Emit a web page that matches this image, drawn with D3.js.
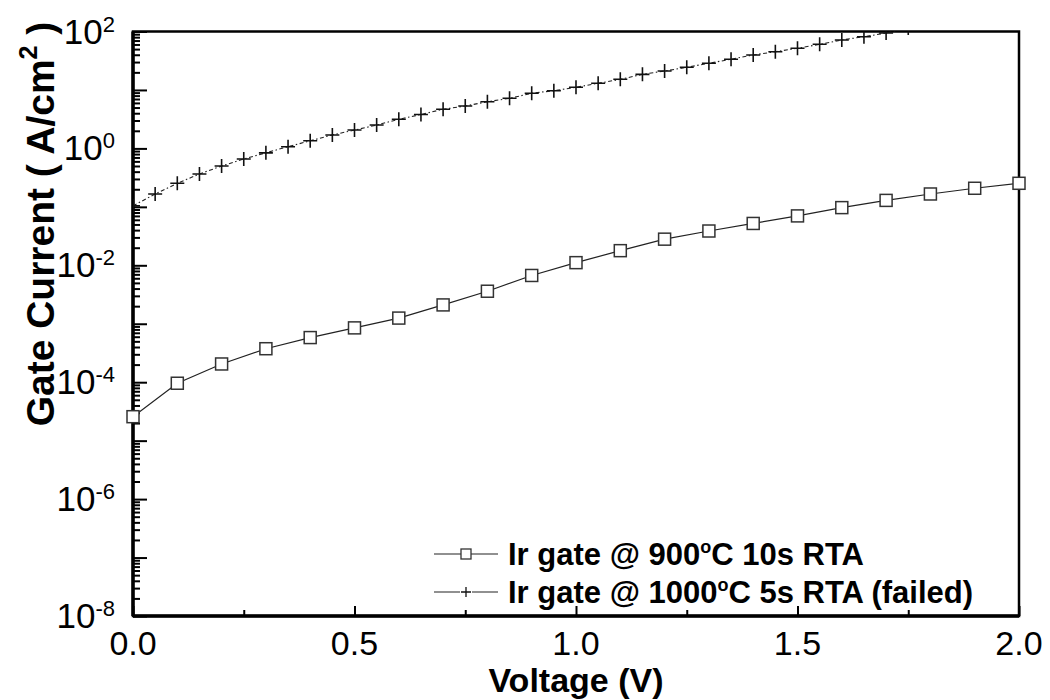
<!DOCTYPE html>
<html>
<head>
<meta charset="utf-8">
<script src="https://cdn.jsdelivr.net/npm/d3@7"></script>
<style>
  body { margin: 0; background: #fff; }
  text { font-family: "Liberation Sans", Arial, sans-serif; fill: #000; }
  .axis path { display: none; }
  .axis line { stroke: #000; stroke-width: 2; }
</style>
</head>
<body>
<div id="chart"></div>
<script>
var svgWidth = 1050;
var svgHeight = 700;

var margin = { top: 31.5, right: 31, bottom: 84, left: 133 };
var width = svgWidth - margin.left - margin.right;
var height = svgHeight - margin.top - margin.bottom;

// Ir gate @ 900C 10s RTA (squares)
var sqVolt = [0, 0.1, 0.2, 0.3, 0.4, 0.5, 0.6, 0.7, 0.8, 0.9, 1.0,
              1.1, 1.2, 1.3, 1.4, 1.5, 1.6, 1.7, 1.8, 1.9, 2.0];
var sqCurrent = [2.57e-5, 9.6e-5, 2.05e-4, 3.74e-4, 5.8e-4, 8.5e-4, 1.25e-3, 2.1e-3, 3.6e-3, 6.7e-3, 1.11e-2,
                 1.78e-2, 2.8e-2, 3.86e-2, 5.2e-2, 7.0e-2, 9.7e-2, 0.129, 0.166, 0.208, 0.253];

// Ir gate @ 1000C 5s RTA, failed (plus)
var plusVolt = [0, 0.05, 0.1, 0.15, 0.2, 0.25, 0.3, 0.35, 0.4, 0.45, 0.5, 0.55,
                0.6, 0.65, 0.7, 0.75, 0.8, 0.85, 0.9, 0.95, 1.0, 1.05, 1.1, 1.15,
                1.2, 1.25, 1.3, 1.35, 1.4, 1.45, 1.5, 1.55, 1.6, 1.65, 1.7, 1.75];
var plusCurrent = [0.104, 0.166, 0.253, 0.365, 0.50, 0.66, 0.84, 1.07, 1.35, 1.70, 2.06, 2.51,
                   3.15, 3.8, 4.67, 5.31, 6.29, 7.19, 8.77, 9.71, 11.1, 13.0, 15.2, 18.5,
                   21.1, 24.4, 28.6, 33.5, 39.6, 45.1, 51.6, 60.4, 71.6, 81.5, 94.2, 115];

var xMajor = [0, 0.5, 1.0, 1.5, 2.0];
var xMinor = [0.25, 0.75, 1.25, 1.75];
var xLabels = ["0.0", "0.5", "1.0", "1.5", "2.0"];
var yExponents = [-8, -6, -4, -2, 0, 2];

var legendNames = ["Ir gate @ 900", "Ir gate @ 1000"];
var legendTails = ["C 10s RTA", "C 5s RTA (failed)"];

var svg = d3.select("#chart")
    .append("svg")
    .attr("width", svgWidth)
    .attr("height", svgHeight);

var chartGroup = svg.append("g")
    .attr("transform", `translate(${margin.left}, ${margin.top})`);

var xScale = d3.scaleLinear().domain([0, 2]).range([0, width]);
var yScale = d3.scaleLog().domain([1e-8, 1e2]).range([height, 0]);

// clip for the data
svg.append("defs").append("clipPath")
    .attr("id", "plotClip")
    .append("rect")
    .attr("width", width)
    .attr("height", height);

// y ticks, pointing inward
var decades = d3.range(-8, 3).map(e => Math.pow(10, e));
var yMinors = [];
d3.range(-8, 2).forEach(e => {
    for (var m = 2; m <= 9; m++) yMinors.push(m * Math.pow(10, e));
});

chartGroup.append("g")
    .attr("class", "axis")
    .call(d3.axisRight(yScale).tickValues(decades).tickSize(14).tickFormat(""));
chartGroup.append("g")
    .attr("class", "axis")
    .call(d3.axisRight(yScale).tickValues(yMinors).tickSize(7).tickFormat(""));

// x ticks, pointing up
chartGroup.append("g")
    .attr("class", "axis")
    .attr("transform", `translate(0, ${height})`)
    .call(d3.axisTop(xScale).tickValues(xMajor).tickSize(10).tickFormat(""));
chartGroup.append("g")
    .attr("class", "axis")
    .attr("transform", `translate(0, ${height})`)
    .call(d3.axisTop(xScale).tickValues(xMinor).tickSize(6).tickFormat(""));

// frame
chartGroup.append("rect")
    .attr("width", width)
    .attr("height", height)
    .attr("fill", "none")
    .attr("stroke", "#000")
    .attr("stroke-width", 2.5);
chartGroup.append("line")
    .attr("x1", 0).attr("x2", 0).attr("y1", 0).attr("y2", height)
    .attr("stroke", "#000").attr("stroke-width", 3.5);
chartGroup.append("line")
    .attr("x1", 0).attr("x2", width).attr("y1", height).attr("y2", height)
    .attr("stroke", "#000").attr("stroke-width", 3.5);

// x tick labels
chartGroup.selectAll(".xlab")
    .data(xMajor)
    .enter()
    .append("text")
    .attr("class", "xlab")
    .attr("x", d => xScale(d))
    .attr("y", height + 39)
    .attr("text-anchor", "middle")
    .attr("font-size", 34)
    .text((d, i) => xLabels[i]);

// y tick labels: 10 with superscript exponent
var yLab = chartGroup.selectAll(".ylab")
    .data(yExponents)
    .enter()
    .append("text")
    .attr("class", "ylab")
    .attr("x", -18)
    .attr("y", d => yScale(Math.pow(10, d)) + 12)
    .attr("text-anchor", "end");
yLab.append("tspan").attr("font-size", 35).text("10");
yLab.append("tspan").attr("font-size", 22).attr("dy", -12).text(d => d);

// square series
var dataGroup = chartGroup.append("g").attr("clip-path", "url(#plotClip)");

var sqData = sqVolt.map((v, i) => ({ v: v, c: sqCurrent[i] }));
var plusData = plusVolt.map((v, i) => ({ v: v, c: plusCurrent[i] }));

var lineGen = d3.line().x(d => xScale(d.v)).y(d => yScale(d.c));

dataGroup.append("path")
    .datum(plusData)
    .attr("d", lineGen)
    .attr("fill", "none")
    .attr("stroke", "#222")
    .attr("stroke-width", 1.1)
    .attr("stroke-dasharray", "4,2.5,1.5,2.5");

dataGroup.selectAll(".plus")
    .data(plusData)
    .enter()
    .append("path")
    .attr("class", "plus")
    .attr("d", d => {
        var px = xScale(d.v), py = yScale(d.c);
        return `M${px - 7},${py}H${px + 7}M${px},${py - 7}V${py + 7}`;
    })
    .attr("stroke", "#111")
    .attr("stroke-width", 1.6);

dataGroup.append("path")
    .datum(sqData)
    .attr("d", lineGen)
    .attr("fill", "none")
    .attr("stroke", "#222")
    .attr("stroke-width", 1.2);

chartGroup.selectAll(".sq")
    .data(sqData)
    .enter()
    .append("rect")
    .attr("class", "sq")
    .attr("x", d => xScale(d.v) - 6)
    .attr("y", d => yScale(d.c) - 6)
    .attr("width", 12)
    .attr("height", 12)
    .attr("fill", "#fff")
    .attr("stroke", "#333")
    .attr("stroke-width", 1.5);

// legend
var legend = svg.append("g");
legendNames.forEach((name, i) => {
    var ly = 554 + i * 38;
    legend.append("line")
        .attr("x1", 434).attr("x2", 498).attr("y1", ly).attr("y2", ly)
        .attr("stroke", "#222").attr("stroke-width", 1.2);
    if (i === 0) {
        legend.append("rect")
            .attr("x", 461).attr("y", ly - 5).attr("width", 10).attr("height", 10)
            .attr("fill", "#fff").attr("stroke", "#333").attr("stroke-width", 1.3);
    } else {
        legend.append("rect")
            .attr("x", 460).attr("y", ly - 6).attr("width", 12).attr("height", 12)
            .attr("fill", "#fff");
        legend.append("path")
            .attr("d", `M461,${ly}H471M466,${ly - 5}V${ly + 5}`)
            .attr("stroke", "#111").attr("stroke-width", 1.3);
    }
    var t = legend.append("text")
        .attr("x", 508)
        .attr("y", ly + 11)
        .attr("font-size", 31)
        .attr("font-weight", "bold");
    t.append("tspan").text(name);
    t.append("tspan").attr("font-size", 18).attr("dy", -12).text("o");
    t.append("tspan").attr("dy", 12).text(legendTails[i]);
});

// axis titles
svg.append("text")
    .attr("x", margin.left + width / 2)
    .attr("y", 692)
    .attr("text-anchor", "middle")
    .attr("font-size", 34)
    .attr("font-weight", "bold")
    .text("Voltage (V)");

var yTitle = svg.append("text")
    .attr("transform", "translate(54, 224) rotate(-90)")
    .attr("text-anchor", "middle")
    .attr("font-size", 39)
    .attr("font-weight", "bold");
yTitle.append("tspan").text("Gate Current ( A/cm");
yTitle.append("tspan").attr("font-size", 25).attr("dy", -17).text("2");
yTitle.append("tspan").attr("dy", 17).text(" )");
</script>
</body>
</html>
